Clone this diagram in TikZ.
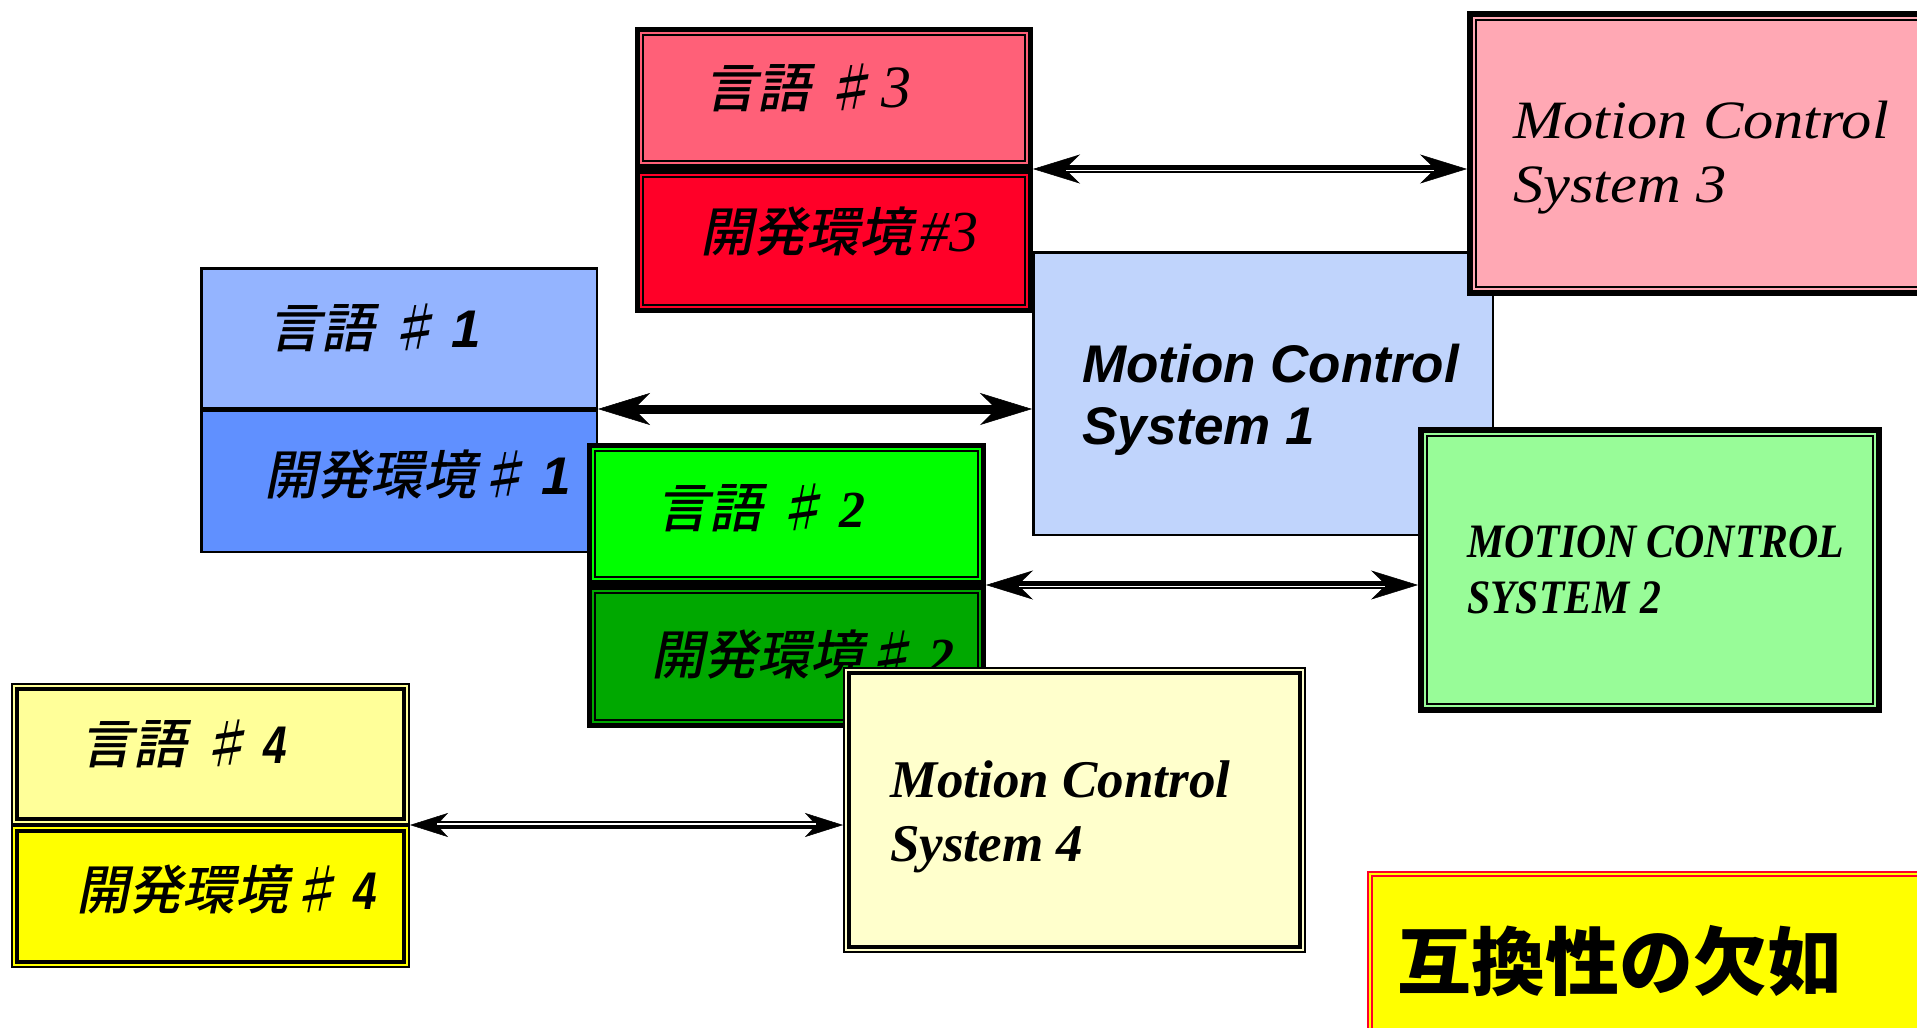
\documentclass[tikz,border=0pt]{standalone}
\usepackage{fontspec}
\usetikzlibrary{arrows.meta,fit}
\newfontfamily\jpslant[FakeSlant=0.2]{Noto Sans CJK JP Medium}
\newfontfamily\jpplain{Noto Sans CJK JP}
\newfontfamily\arialish{Liberation Sans}
\newfontfamily\timesish{Liberation Serif}
\newfontfamily\palish[FakeStretch=1.12]{Liberation Serif}
\newfontfamily\capsish[FakeStretch=0.87]{Liberation Serif}
\newfontfamily\narrowish[FakeStretch=0.8]{Liberation Sans}
\definecolor{redA}{RGB}{255,96,120}
\definecolor{redB}{RGB}{255,0,40}
\definecolor{blueA}{RGB}{148,180,255}
\definecolor{blueB}{RGB}{96,144,255}
\definecolor{greenA}{RGB}{0,255,0}
\definecolor{greenB}{RGB}{0,168,0}
\definecolor{yelA}{RGB}{255,255,153}
\definecolor{yelB}{RGB}{255,255,0}
\definecolor{pinkC}{RGB}{255,168,180}
\definecolor{blueC}{RGB}{192,212,252}
\definecolor{greenC}{RGB}{152,252,152}
\definecolor{creamC}{RGB}{255,255,204}
\tikzset{
  every node/.style={inner sep=0pt},
  thinbox/.style={draw=black, line width=2.5pt, outer sep=1.25pt},
  heavyframe/.style={draw=black, line width=5pt, outer sep=2.5pt},
  heavierframe/.style={draw=black, line width=6pt, outer sep=3pt},
  lightframe/.style={draw=black, line width=2pt, outer sep=1pt},
  redframe/.style={draw=redB, line width=2pt, outer sep=1pt},
  innerthin/.style={draw=black, line width=2pt},
  innerthick/.style={draw=black, line width=3.5pt},
  innerred/.style={draw=redB, line width=2pt},
  jplabel/.style={anchor=west, font=\jpslant\fontsize{53}{60}\selectfont},
  sanslabel/.style={anchor=base west, font=\arialish\bfseries\itshape\fontsize{53}{60}\selectfont},
  pallabel/.style={anchor=base west, font=\palish\itshape\fontsize{54}{60}\selectfont},
  capslabel/.style={anchor=base west, font=\capsish\bfseries\itshape\fontsize{48}{56}\selectfont},
  timeslabel/.style={anchor=base west, font=\timesish\bfseries\itshape\fontsize{53}{60}\selectfont},
  arrowone/.style={line width=9pt, {Stealth[length=52pt,width=32pt,inset=16pt,line width=0.5pt]}-{Stealth[length=52pt,width=32pt,inset=16pt,line width=0.5pt]}},
  arrowtwo/.style={line width=8.5pt, {Stealth[length=47pt,width=29pt,inset=15pt,line width=0.5pt]}-{Stealth[length=47pt,width=29pt,inset=15pt,line width=0.5pt]}},
  arrowfour/.style={line width=7.5pt, {Stealth[length=38pt,width=24pt,inset=11pt,line width=0.5pt]}-{Stealth[length=38pt,width=24pt,inset=11pt,line width=0.5pt]}},
  gapline/.style={draw=white, line width=1.5pt, shorten <=33pt, shorten >=33pt},
  gaplinefour/.style={draw=white, line width=2pt, shorten <=27pt, shorten >=27pt}
}
\begin{document}
\begin{tikzpicture}[x=1pt,y=-1pt]
\useasboundingbox (0,0) rectangle (1917,1028);
\fill[white] (0,0) rectangle (1917,1028);
\clip (0,0) rectangle (1917,1028);

% language/environment #1 (blue)
\node[thinbox, fill=blueA, fit={(201.25,268.25)(596.75,407.75)}] (l1) {};
\node[thinbox, fill=blueB, fit={(201.25,410.25)(596.75,551.75)}] (e1) {};
\node[jplabel] (tl1) at (268,328) {言語 ♯ {\arialish\bfseries\itshape 1}};
\node[jplabel] (te1) at (264,475) {開発環境♯ {\arialish\bfseries\itshape 1}};

% Motion Control System 1
\node[thinbox, fill=blueC, fit={(1033.25,252.25)(1492.75,534.75)}] (m1) {};
\node[sanslabel] (tm1a) at (1082,382) {Motion Control};
\node[sanslabel] (tm1b) at (1082,444) {System 1};

% language/environment #3 (red)
\node[heavyframe, fill=redA, fit={(637.5,29.5)(1030.5,166.5)}] (l3) {};
\node[heavyframe, fill=redB, fit={(637.5,171.5)(1030.5,310.5)}] (e3) {};
\draw[innerthin] ([shift={(8,8)}]l3.north west) rectangle ([shift={(-8,-8)}]l3.south east);
\draw[innerthin] ([shift={(8,8)}]e3.north west) rectangle ([shift={(-8,-8)}]e3.south east);
\node[jplabel] (tl3) at (704,88) {言語 ♯\hspace{6pt}{\timesish\itshape\fontsize{60}{64}\selectfont 3}};
\node[jplabel] (te3) at (700,232) {開発環境\hspace{8pt}{\timesish\itshape\fontsize{58}{64}\selectfont \#3}};

% Motion Control System 3
\node[heavierframe, fill=pinkC, fit={(1470,14)(1960,293)}] (m3) {};
\draw[innerthin] ([shift={(9,9)}]m3.north west) rectangle ([shift={(-9,-9)}]m3.south east);
\node[pallabel] (tm3a) at (1513,138) {Motion Control};
\node[pallabel] (tm3b) at (1513,202) {System 3};

% language/environment #2 (green)
\node[heavyframe, fill=greenA, fit={(589.5,445.5)(983.5,582.5)}] (l2) {};
\node[heavyframe, fill=greenB, fit={(589.5,587.5)(983.5,725.5)}] (e2) {};
\draw[innerthin] ([shift={(8,8)}]l2.north west) rectangle ([shift={(-8,-8)}]l2.south east);
\draw[innerthin] ([shift={(8,8)}]e2.north west) rectangle ([shift={(-8,-8)}]e2.south east);
\node[jplabel] (tl2) at (656,508) {言語 ♯ {\timesish\bfseries\itshape\fontsize{52}{56}\selectfont 2}};
\node[jplabel] (te2) at (651,655) {開発環境♯ {\timesish\bfseries\itshape\fontsize{52}{56}\selectfont 2}};

% Motion Control System 2
\node[heavierframe, fill=greenC, fit={(1421,430)(1879,710)}] (m2) {};
\draw[innerthin] ([shift={(9,9)}]m2.north west) rectangle ([shift={(-9,-9)}]m2.south east);
\node[capslabel] (tm2a) at (1467,557) {MOTION CONTROL};
\node[capslabel] (tm2b) at (1467,613) {SYSTEM 2};

% Motion Control System 4
\node[lightframe, fill=creamC, fit={(844,668)(1305,952)}] (m4) {};
\draw[innerthick] ([shift={(6,6)}]m4.north west) rectangle ([shift={(-6,-6)}]m4.south east);
\node[timeslabel] (tm4a) at (890,797) {Motion Control};
\node[timeslabel] (tm4b) at (890,861) {System 4};

% language/environment #4 (yellow)
\node[lightframe, fill=yelA, fit={(12,684)(409,824)}] (l4) {};
\node[lightframe, fill=yelB, fit={(12,826)(409,967)}] (e4) {};
\draw[innerthick] ([shift={(6,6)}]l4.north west) rectangle ([shift={(-6,-6)}]l4.south east);
\draw[innerthick] ([shift={(6,6)}]e4.north west) rectangle ([shift={(-6,-6)}]e4.south east);
\node[jplabel] (tl4) at (80,744) {言語 ♯ {\narrowish\bfseries\itshape\fontsize{53}{56}\selectfont 4}};
\node[jplabel] (te4) at (76,890) {開発環境♯ {\narrowish\bfseries\itshape\fontsize{53}{56}\selectfont 4}};

% lack of compatibility
\node[redframe, fill=yelB, fit={(1368,872)(1960,1060)}] (lack) {};
\draw[innerred] ([shift={(5,5)}]lack.north west) rectangle ([shift={(-5,-5)}]lack.south east);
\node[anchor=west, font=\jpplain\bfseries\fontsize{74}{80}\selectfont] (tlack) at (1397,961) {互換性の欠如};

% connectors
\coordinate (a1) at (l1.south east);
\coordinate (b1) at (l1.south east -| m1.west);
\draw[arrowone] (a1) -- (b1);

\coordinate (a3) at (l3.south east);
\coordinate (b3) at (l3.south east -| m3.west);
\draw[arrowtwo] (a3) -- (b3);
\draw[gapline] ([yshift=-1.5pt]a3) -- ([yshift=-1.5pt]b3);

\coordinate (a2) at (l2.south east);
\coordinate (b2) at (l2.south east -| m2.west);
\draw[arrowtwo] (a2) -- (b2);
\draw[gapline] ([yshift=-1.5pt]a2) -- ([yshift=-1.5pt]b2);

\coordinate (a4) at (l4.south east);
\coordinate (b4) at (l4.south east -| m4.west);
\draw[arrowfour] (a4) -- (b4);
\draw[gaplinefour] ([yshift=0.75pt]a4) -- ([yshift=0.75pt]b4);
\end{tikzpicture}
\end{document}
